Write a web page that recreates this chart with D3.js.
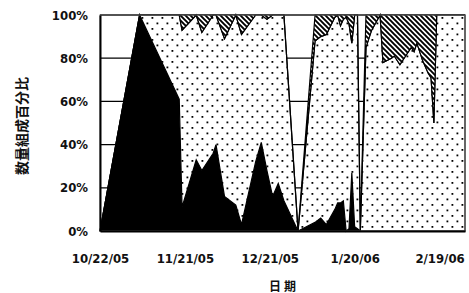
<!DOCTYPE html>
<html>
<head>
<meta charset="utf-8">
<script src="https://cdn.jsdelivr.net/npm/d3@7"></script>
<style>
	body { margin: 0; background: #fff; }
	text { font-family: "DejaVu Sans Condensed", "DejaVu Sans", sans-serif; font-weight: bold; font-stretch: condensed; fill: #111; }
</style>
</head>
<body>
<div id="chart"></div>
<script>

	// sample dates and the share of each group (percent)
	const dates = ["2005-10-22", "2005-11-05", "2005-11-19", "2005-11-20", "2005-11-25", "2005-11-27",
		"2005-12-01", "2005-12-02", "2005-12-05", "2005-12-09", "2005-12-11", "2005-12-16", "2005-12-18",
		"2005-12-20", "2005-12-22", "2005-12-24", "2005-12-26", "2005-12-31", "2006-01-06", "2006-01-08",
		"2006-01-10", "2006-01-13", "2006-01-14", "2006-01-15", "2006-01-16", "2006-01-17", "2006-01-18",
		"2006-01-19", "2006-01-20", "2006-01-21", "2006-01-22", "2006-01-24", "2006-01-26",
		"2006-01-29", "2006-01-30", "2006-02-02", "2006-02-03", "2006-02-05", "2006-02-07", "2006-02-09",
		"2006-02-10", "2006-02-11", "2006-02-13", "2006-02-15", "2006-02-16", "2006-02-17", "2006-02-18",
		"2006-02-28"];

	const solidPct = [0, 100, 61, 11, 33, 28,
		36, 40, 16, 12, 3, 32, 41,
		28, 16, 22, 14, 0, 4, 6,
		3, 10, 13, 13, 14, 0, 1,
		27, 2, 1, 0, 0, 0,
		0, 0, 0, 0, 0, 0, 0,
		0, 0, 0, 0, 0, 0, 0,
		0];

	const dottedPct = [0, 0, 39, 82, 67, 64,
		64, 60, 73, 88, 88, 68, 59,
		70, 84, 78, 86, 0, 84, 84,
		88, 89, 87, 82, 84, 99, 95,
		60, 98, 99, 0, 85, 93,
		100, 78, 80, 81, 77, 81, 85,
		83, 87, 79, 73, 71, 50, 100,
		100];

	const hatchPct = [0, 0, 0, 7, 0, 8,
		0, 0, 11, 0, 9, 0, 0,
		2, 0, 0, 0, 0, 12, 10,
		9, 1, 0, 5, 2, 1, 4,
		13, 0, 0, 0, 15, 7,
		0, 22, 20, 19, 23, 19, 15,
		17, 13, 21, 27, 29, 50, 0,
		0];

	const tickLabels = ["10/22/05", "11/21/05", "12/21/05", "1/20/06", "2/19/06"];
	const yTicks = [0, 20, 40, 60, 80, 100];

	const w = 469;
	const h = 293;
	const margin = { top: 15, right: 4, bottom: 62, left: 100 };
	const plotW = w - margin.left - margin.right;
	const plotH = h - margin.top - margin.bottom;

	const parseDate = d3.timeParse("%Y-%m-%d");
	const parseTick = d3.timeParse("%m/%d/%y");

	const rows = dates.map((d, i) => ({
		date: parseDate(d),
		solid: solidPct[i],
		dotted: dottedPct[i],
		hatch: hatchPct[i]
	}));

	const layers = d3.stack().keys(["solid", "dotted", "hatch"])(rows);

	// Scales
	const xScale = d3.scaleTime()
		.domain(d3.extent(rows, d => d.date))
		.range([0, plotW]);

	const yScale = d3.scaleLinear()
		.domain([0, 100])
		.range([plotH, 0]);

	const svg = d3.select("#chart")
		.append("svg")
		.attr("width", w)
		.attr("height", h);

	// Fill patterns
	const defs = svg.append("defs");

	const dots = defs.append("pattern")
		.attr("id", "dots")
		.attr("patternUnits", "userSpaceOnUse")
		.attr("width", 10)
		.attr("height", 11);
	dots.append("rect").attr("width", 10).attr("height", 11).attr("fill", "#fff");
	dots.append("rect").attr("x", 1.5).attr("y", 2).attr("width", 1.8).attr("height", 1.8).attr("fill", "#000");
	dots.append("rect").attr("x", 6.5).attr("y", 7.5).attr("width", 1.8).attr("height", 1.8).attr("fill", "#000");

	const hatch = defs.append("pattern")
		.attr("id", "hatch")
		.attr("patternUnits", "userSpaceOnUse")
		.attr("width", 5)
		.attr("height", 5);
	hatch.append("rect").attr("width", 5).attr("height", 5).attr("fill", "#fff");
	hatch.append("path")
		.attr("d", "M-1,-1L6,6M-1,4L1,6M4,-1L6,1")
		.attr("stroke", "#000")
		.attr("stroke-width", 1.9);

	const g = svg.append("g")
		.attr("transform", `translate(${margin.left}, ${margin.top})`);

	// Gridlines (behind the areas)
	g.selectAll("line.grid")
		.data(yTicks.filter(t => t > 0))
		.enter()
		.append("line")
		.attr("class", "grid")
		.attr("x1", 0)
		.attr("x2", plotW)
		.attr("y1", d => yScale(d))
		.attr("y2", d => yScale(d))
		.attr("stroke", "#000")
		.attr("stroke-width", 1.3);

	const area = d3.area()
		.x(d => xScale(d.data.date))
		.y0(d => yScale(d[0]))
		.y1(d => yScale(d[1]));

	const fills = ["#000", "url(#dots)", "url(#hatch)"];

	g.selectAll("path.layer")
		.data(layers)
		.enter()
		.append("path")
		.attr("class", "layer")
		.attr("d", area)
		.attr("fill", (d, i) => fills[i])
		.attr("stroke", "#000")
		.attr("stroke-width", 1.2)
		.attr("stroke-linejoin", "miter");

	// Plot frame
	g.append("rect")
		.attr("width", plotW)
		.attr("height", plotH)
		.attr("fill", "none")
		.attr("stroke", "#666")
		.attr("stroke-width", 1);

	// Axes
	const xAxis = d3.axisBottom(xScale)
		.tickValues(tickLabels.map(parseTick))
		.tickFormat((d, i) => tickLabels[i])
		.tickSize(0)
		.tickPadding(23);

	const yAxis = d3.axisLeft(yScale)
		.tickValues(yTicks)
		.tickFormat(d => d + "%")
		.tickSize(0)
		.tickPadding(12);

	g.append("g")
		.attr("transform", `translate(0, ${plotH})`)
		.call(xAxis)
		.call(a => a.select(".domain").attr("stroke", "#000").attr("stroke-width", 2))
		.selectAll("text")
		.attr("font-size", 13);

	g.append("g")
		.call(yAxis)
		.call(a => a.select(".domain").attr("stroke", "#000").attr("stroke-width", 2))
		.selectAll("text")
		.attr("font-size", 13);

	// Titles
	svg.append("text")
		.text("数量組成百分比")
		.attr("transform", "translate(22, 126) rotate(-90)")
		.attr("text-anchor", "middle")
		.attr("dy", "0.35em")
		.style("font-family", "'Noto Sans CJK JP', sans-serif")
		.style("font-size", "14px");

	svg.append("text")
		.text("日期")
		.attr("x", 284)
		.attr("y", 291)
		.attr("text-anchor", "middle")
		.style("font-family", "'Noto Sans CJK JP', sans-serif")
		.style("font-size", "12px")
		.style("letter-spacing", "3px");

</script>
</body>
</html>
